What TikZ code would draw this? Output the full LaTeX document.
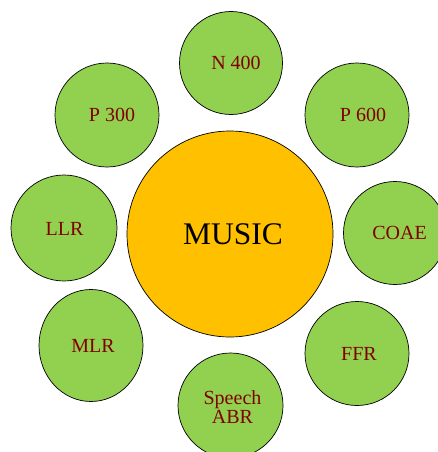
\documentclass[tikz,border=0pt]{standalone}
\usepackage{fontspec}
\setmainfont{Liberation Serif}
\usepackage{tikz}
\usetikzlibrary{shapes.geometric}

\definecolor{hubfill}{HTML}{FFC000}
\definecolor{satfill}{HTML}{92D050}
\definecolor{lbltext}{HTML}{800000}

\begin{document}
\begin{tikzpicture}[
  x=1pt, y=-1pt,
  hub/.style={
    circle, draw=black, line width=0.7pt, fill=hubfill,
    minimum size=206pt, inner sep=0pt
  },
  sat/.style={
    circle, draw=black, line width=0.7pt, fill=satfill,
    minimum size=#1, inner sep=0pt
  },
  sat/.default=104pt,
  lbl/.style={text=lbltext, font=\fontsize{20}{19}\selectfont, align=center, inner sep=0pt},
  hublbl/.style={text=black, font=\fontsize{31.5}{34}\selectfont, inner sep=0pt}
]
\useasboundingbox (0,0) rectangle (438,452);

% Centre
\node[hub, label={[hublbl,xshift=3pt]center:MUSIC}] (music) at (230,234) {};

% Satellites - clockwise from the top
\node[sat=103pt, label={[lbl,xshift=5pt]center:N 400}] (n400) at (231,63) {};
\node[sat, label={[lbl,xshift=6pt]center:P 600}] (p600) at (357,115) {};
\node[sat=103pt, label={[lbl,xshift=4.5pt]center:COAE}] (coae) at (395,233) {};
\node[sat, label={[lbl,xshift=2pt]center:FFR}] (ffr) at (357,353.5) {};
\node[sat=105pt, label={[lbl,xshift=2pt,yshift=-2pt]center:Speech\\ABR}] (speech) at (230.5,405.5) {};
\node[sat, ellipse, minimum width=104pt, minimum height=112pt,
  label={[lbl,xshift=2pt]center:MLR}] (mlr) at (91,345.5) {};
\node[sat=106pt, label={[lbl,xshift=0.5pt,yshift=-1pt]center:LLR}] (llr) at (64,228) {};
\node[sat, label={[lbl,xshift=5pt]center:P 300}] (p300) at (107,115) {};

\end{tikzpicture}
\end{document}
